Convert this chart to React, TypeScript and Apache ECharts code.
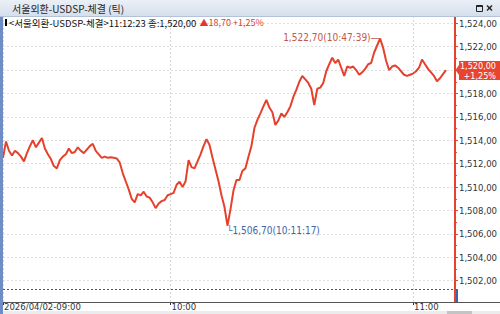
import React, { useEffect, useRef } from 'react';
import * as echarts from 'echarts';

// ---- data ----
const prices = [
  1512.5, 1513.9, 1513.1, 1512.7, 1513.1, 1512.9, 1512.6, 1512.2, 1512.9, 1513.5,
  1514.0, 1513.4, 1513.8, 1514.2, 1513.3, 1512.8, 1512.4, 1511.8, 1511.6, 1512.3,
  1512.6, 1512.8, 1513.3, 1512.9, 1513.0, 1513.4, 1513.1, 1512.9, 1513.2, 1513.5,
  1513.7, 1513.1, 1512.8, 1512.5, 1512.6, 1512.5, 1512.55, 1512.5, 1512.45, 1512.1,
  1511.2, 1510.5, 1509.8, 1509.0, 1508.7, 1509.4, 1509.3, 1509.6, 1509.2, 1509.1,
  1508.7, 1508.2, 1508.6, 1508.8, 1508.9, 1509.3, 1509.4, 1509.5, 1510.2, 1510.45,
  1510.0, 1510.5, 1512.3, 1511.7, 1511.6, 1512.2, 1512.8, 1513.5, 1514.1, 1513.6,
  1512.5, 1511.5, 1510.5, 1509.3, 1508.3, 1506.7, 1508.1, 1509.7, 1510.6, 1510.6,
  1511.4, 1511.6, 1512.6, 1513.5, 1515.05, 1515.75, 1516.3, 1516.9, 1517.45, 1516.8,
  1516.4, 1515.3, 1515.7, 1516.3, 1516.0, 1516.4, 1516.9, 1517.7, 1518.3, 1519.0,
  1519.5, 1519.2, 1518.9, 1518.4, 1517.0, 1518.4, 1518.5, 1518.9, 1519.9, 1520.5,
  1521.05, 1520.6, 1520.9, 1520.2, 1519.5, 1520.3, 1520.2, 1520.3, 1520.0, 1519.6,
  1519.8, 1520.1, 1520.5, 1520.6, 1521.5, 1522.1, 1522.7, 1521.9, 1520.8, 1520.0,
  1520.3, 1520.4, 1520.2, 1519.9, 1519.6, 1519.5, 1519.6, 1519.7, 1519.9, 1520.2,
  1520.9, 1520.5, 1520.1, 1519.8, 1519.5, 1519.05, 1519.3, 1519.65, 1520.0,
];
const SLOTS = 152;
const tickIndex = [0, 56, 137];
const tickText = ['2026/04/02-09:00', '10:00', '11:00'];
const categories = Array.from({ length: SLOTS }, (_, i) => String(i));
const yMin = 1500.18;
const yMax = 1524.62;
const titleText = '서울외환-USDSP-체결 (틱)';
const symbolName = '서울외환-USDSP-체결';
const lastTime = '11:12:23';
const lastPrice = 1520.0;
const change = 18.7;
const changePct = 1.25;
const maxTime = '10:47:39';
const minTime = '10:11:17';
const prevClose = Math.round((lastPrice - change) * 100) / 100;

const NARROW = '"Liberation Sans Narrow", "Arial Narrow", "DejaVu Sans Condensed", sans-serif';
const CJK = '"Noto Sans CJK KR", sans-serif';
const RED = '#e5412c';

const fmt = (v: number) => {
  const [ip, dp] = v.toFixed(2).split('.');
  return ip.replace(/\B(?=(\d{3})+(?!\d))/g, ',') + ',' + dp;
};
const fmtPct = (p: number) => '+' + p.toFixed(2).replace('.', ',') + '%';

export default function App() {
  const ref = useRef<HTMLDivElement>(null);
  useEffect(() => {
    const el = ref.current!;
    const chart = echarts.init(el, null, { renderer: 'svg' });
    const isTick = (i: number) => tickIndex.indexOf(i) >= 0;
    const option: any = {
      animation: false,
      backgroundColor: '#ffffff',
      grid: { left: 3, right: 43, top: 16, bottom: 12, containLabel: false },
      xAxis: {
        type: 'category',
        data: categories,
        boundaryGap: false,
        axisLine: { show: false, onZero: false },
        axisTick: { show: true, interval: isTick, length: 3, lineStyle: { color: '#333' } },
        axisLabel: {
          interval: isTick,
          formatter: (_v: string, i: number) => {
            const k = tickIndex.indexOf(i);
            return k >= 0 ? tickText[k] : '';
          },
          align: 'left',
          margin: 0,
          lineHeight: 9,
          padding: [0, 0, 0, 1],
          fontSize: 9.5,
          fontFamily: NARROW,
          color: '#333',
        },
        splitLine: { show: true, interval: isTick, lineStyle: { color: '#d8d8d8', type: [2, 2], width: 1 } },
      },
      yAxis: {
        type: 'value',
        position: 'right',
        min: yMin,
        max: yMax,
        minInterval: 2,
        maxInterval: 2,
        splitNumber: 12,
        axisLine: { show: true, lineStyle: { color: RED, width: 2 } },
        axisTick: { show: true, length: 3, lineStyle: { color: RED } },
        minorTick: { show: true, splitNumber: 2, length: 2, lineStyle: { color: RED } },
        axisLabel: {
          margin: 4,
          fontSize: 9.5,
          fontFamily: NARROW,
          color: '#333',
          formatter: (v: number) => {
            const r = Math.round(v);
            if (Math.abs(v - r) > 1e-6 || r % 2 !== 0 || r <= 1500) return '';
            // the current-price tag covers this level
            if (Math.abs(r - lastPrice) < 0.5) return '';
            return fmt(r);
          },
        },
        splitLine: { show: true, lineStyle: { color: '#dedede', type: [2, 2], width: 1 } },
      },
      series: [
        {
          type: 'line',
          data: prices,
          symbol: 'none',
          showSymbol: false,
          lineStyle: { color: RED, width: 2 },
          itemStyle: { color: RED },
          markLine: {
            silent: true,
            symbol: ['none', 'none'],
            label: { show: false },
            lineStyle: { color: '#555', type: [2, 2], width: 1 },
            data: [{ yAxis: prevClose }],
          },
          markPoint: {
            symbol: 'circle',
            symbolSize: 1,
            silent: true,
            itemStyle: { color: 'rgba(0,0,0,0)' },
            data: [
              {
                type: 'max',
                label: {
                  show: true,
                  position: [0, 0],
                  align: 'right',
                  verticalAlign: 'middle',
                  formatter: (p: any) => `${fmt(p.value)}(${maxTime})—`,
                  color: '#c4564a',
                  fontSize: 10,
                  fontFamily: NARROW,
                },
              },
              {
                type: 'min',
                label: {
                  show: true,
                  position: [0, 0],
                  align: 'left',
                  verticalAlign: 'top',
                  formatter: (p: any) => `└${fmt(p.value)}(${minTime})`,
                  color: '#3d66a8',
                  fontSize: 10,
                  fontFamily: NARROW,
                },
              },
            ],
          },
        },
      ],
    };
    chart.setOption(option);

    const py = (v: number) => chart.convertToPixel({ yAxisIndex: 0 }, v) as number;
    const yPrev = py(prevClose);
    const yBot = py(yMin);
    const yLast = py(lastPrice);
    const axisY = Math.round(yBot) + 0.5;

    chart.setOption({
      graphic: [
        {
          type: 'rect', z: 100, silent: true,
          shape: { x: 0, y: 0, width: 500, height: 16 },
          style: {
            fill: new echarts.graphic.LinearGradient(0, 0, 0, 1, [
              { offset: 0, color: '#ebf0f7' },
              { offset: 1, color: '#d5dfec' },
            ]),
          },
        },
        { type: 'line', z: 100, silent: true, shape: { x1: 0, y1: 16.5, x2: 500, y2: 16.5 }, style: { stroke: '#b3c2d7', lineWidth: 1 } },
        {
          type: 'text', z: 101, silent: true, x: 12, y: 8.5,
          style: { text: titleText, font: `10px ${CJK}`, fill: '#1e1e1e', verticalAlign: 'middle' },
        },
        { type: 'rect', z: 101, silent: true, shape: { x: 476.5, y: 5.5, width: 6, height: 6 }, style: { fill: 'none', stroke: '#222', lineWidth: 1 } },
        { type: 'line', z: 101, silent: true, shape: { x1: 476.5, y1: 6.2, x2: 482.5, y2: 6.2 }, style: { stroke: '#222', lineWidth: 1.5 } },
        { type: 'line', z: 101, silent: true, shape: { x1: 487, y1: 5.5, x2: 492, y2: 10.5 }, style: { stroke: '#222', lineWidth: 1.4 } },
        { type: 'line', z: 101, silent: true, shape: { x1: 492, y1: 5.5, x2: 487, y2: 10.5 }, style: { stroke: '#222', lineWidth: 1.4 } },
        { type: 'rect', z: 100, silent: true, shape: { x: 0, y: 17, width: 3, height: 297 }, style: { fill: '#6f8dc4' } },
        { type: 'rect', z: 101, silent: true, shape: { x: 5, y: 19, width: 2, height: 7 }, style: { fill: '#000' } },
        {
          type: 'text', z: 101, silent: true, x: 9, y: 22.5,
          style: {
            text: `{k|<${symbolName}>${lastTime} 종:${fmt(lastPrice)}} {r|▲${change.toFixed(2).replace('.', ',')} ${fmtPct(changePct)}}`,
            verticalAlign: 'middle',
            rich: {
              k: { fill: '#111', fontSize: 9.5, fontFamily: CJK },
              r: { fill: '#e03a2a', fontSize: 9, fontFamily: CJK },
            },
          },
        },
        { type: 'line', z: 50, silent: true, shape: { x1: 3, y1: axisY, x2: 500, y2: axisY }, style: { stroke: '#555', lineWidth: 1 } },
        { type: 'rect', z: 60, silent: true, shape: { x: 456, y: yPrev, width: 2, height: yBot - yPrev }, style: { fill: '#3a63b3' } },
        { type: 'rect', z: 60, silent: true, shape: { x: 0, y: 311, width: 500, height: 3 }, style: { fill: '#ececec' } },
        { type: 'rect', z: 61, silent: true, shape: { x: 447, y: 311, width: 25, height: 3 }, style: { fill: '#c4c4c4' } },
        {
          type: 'polygon', z: 110, silent: true,
          shape: {
            points: [
              [455.5, yLast], [459, yLast - 5], [459, yLast - 9], [500, yLast - 9],
              [500, yLast + 10], [459, yLast + 10], [459, yLast + 5],
            ],
          },
          style: { fill: '#e8442e' },
        },
        {
          type: 'text', z: 111, silent: true, x: 496, y: yLast - 4,
          style: { text: fmt(lastPrice), font: `9px ${NARROW}`, fill: '#fff', align: 'right', verticalAlign: 'middle' },
        },
        {
          type: 'text', z: 111, silent: true, x: 496, y: yLast + 5.5,
          style: { text: fmtPct(changePct), font: `9px ${NARROW}`, fill: '#fff', align: 'right', verticalAlign: 'middle' },
        },
      ],
    });

    return () => chart.dispose();
  }, []);
  return (
    <div
      ref={ref}
      style={{ position: 'fixed', left: 0, top: 0, width: 500, height: 314, background: '#fff' }}
    />
  );
}
